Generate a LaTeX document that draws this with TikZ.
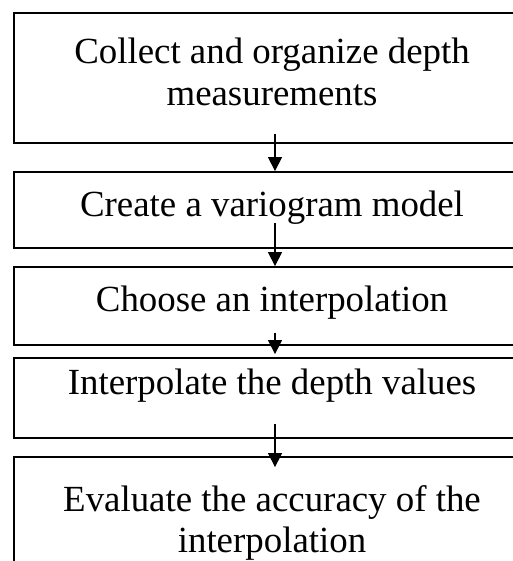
\documentclass[tikz,border=0pt]{standalone}
\usepackage{fontspec}
\setmainfont{Liberation Serif}
\usetikzlibrary{arrows.meta}
\tikzset{
  stepbox/.style={draw=black, line width=1.8bp, minimum width=516bp, inner sep=0pt, fill=white},
  steptext/.style={align=center, inner sep=0pt, font=\fontsize{37}{42}\selectfont},
  flowarrow/.style={line width=1.3bp, -{Triangle[width=14bp,length=14bp]}}
}
\begin{document}
\begin{tikzpicture}[x=1bp,y=-1bp]
\useasboundingbox (0,0) rectangle (513,561);
\clip (0,0) rectangle (513,561);
\fill[white] (0,0) rectangle (513,561);
% boxes
\node[stepbox, minimum height=130bp] (b1) at (272,78) {};
\node[stepbox, minimum height=76bp] (b2) at (272,210) {};
\node[stepbox, minimum height=78bp] (b3) at (272,306) {};
\node[stepbox, minimum height=80bp] (b4) at (272,398) {};
\node[stepbox, minimum height=130bp] (b5) at (272,522) {};
% texts
\node[steptext] (t1) at (272,72) {Collect and organize depth\\measurements};
\node[steptext] (t2) at (272,208) {Create a variogram model};
\node[steptext] (t3) at (272,303) {Choose an interpolation};
\node[steptext] (t4) at (272,386) {Interpolate the depth values};
\node[steptext] (t5) at (272,523) {Evaluate the accuracy of the\\interpolation};
% arrows
\draw[flowarrow] ([xshift=3bp,yshift=10bp]b1.south) -- ([xshift=3bp]b2.north);
\draw[flowarrow] ([xshift=3bp,yshift=26bp]b2.south) -- ([xshift=3bp]b3.north);
\draw[flowarrow] ([xshift=3bp,yshift=13bp]b3.south) -- ([xshift=3bp,yshift=3bp]b4.north);
\draw[flowarrow] ([xshift=3bp,yshift=15bp]b4.south) -- ([xshift=3bp,yshift=-11bp]b5.north);
\end{tikzpicture}
\end{document}
